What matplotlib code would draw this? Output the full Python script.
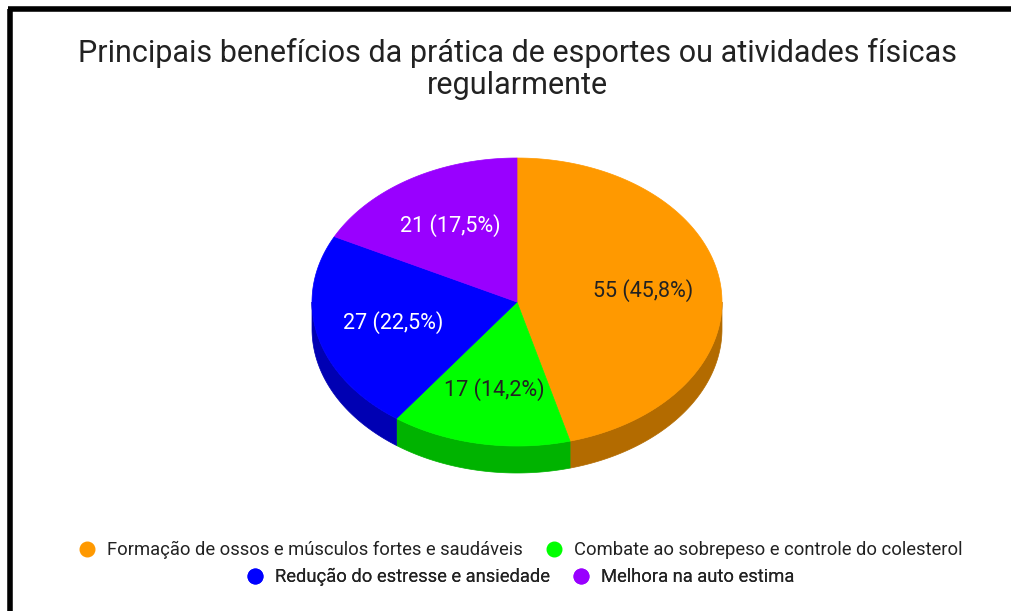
import numpy as np
import matplotlib.pyplot as plt
from matplotlib.patches import Polygon
from matplotlib.lines import Line2D

plt.rcParams['font.family'] = ['Roboto', 'DejaVu Sans']

# ---------------- data ----------------
categories = ['Formação de ossos e músculos fortes e saudáveis',
              'Combate ao sobrepeso e controle do colesterol',
              'Redução do estresse e ansiedade',
              'Melhora na auto estima']
counts = [55, 17, 27, 21]
top_colors = ['#FF9900', '#00FF00', '#0000FF', '#9900FF']
side_colors = ['#B36B00', '#00B300', '#0000B3', '#6B00B3']
label_colors = ['#222222', '#222222', '#FFFFFF', '#FFFFFF']

title = 'Principais benefícios da prática de esportes ou atividades físicas\nregularmente'

# ---------------- geometry (pixels) ----------------
cx, cy = 517, 302      # centre of top face
rx, ry = 205, 144      # ellipse radii
depth = 27             # thickness of the 3D side
label_frac = 0.62


def ell(theta_deg, r=1.0, dy=0.0):
    t = np.radians(theta_deg)
    return cx + r * rx * np.sin(t), cy - r * ry * np.cos(t) + dy


fig = plt.figure(figsize=(10.11, 6.11), dpi=100)
ax = fig.add_axes([0, 0, 1, 1])
ax.set_xlim(0, 1011)
ax.set_ylim(611, 0)
ax.axis('off')

total = sum(counts)
fracs = np.array(counts) / total
edges = np.concatenate([[0], np.cumsum(fracs) * 360])

# side faces (front half only: 90..270 deg clockwise from top)
for i in range(len(counts)):
    a0, a1 = max(edges[i], 90), min(edges[i + 1], 270)
    if a1 <= a0:
        continue
    th = np.linspace(a0, a1, 80)
    xs, ys = ell(th)
    xb, yb = ell(th[::-1], dy=depth)
    pts = np.column_stack([np.concatenate([xs, xb]), np.concatenate([ys, yb])])
    ax.add_patch(Polygon(pts, closed=True, facecolor=side_colors[i],
                         edgecolor=side_colors[i], lw=0.5))

# top face wedges
for i in range(len(counts)):
    th = np.linspace(edges[i], edges[i + 1], 120)
    xs, ys = ell(th)
    pts = np.column_stack([np.concatenate([[cx], xs]), np.concatenate([[cy], ys])])
    ax.add_patch(Polygon(pts, closed=True, facecolor=top_colors[i],
                         edgecolor=top_colors[i], lw=0.5))
    mid = (edges[i] + edges[i + 1]) / 2
    lx, ly = ell(mid, r=label_frac)
    pct = f'{fracs[i] * 100:.1f}'.replace('.', ',')
    ax.text(lx, ly, f'{counts[i]} ({pct}%)', ha='center', va='center',
            fontsize=15.5, color=label_colors[i])

# title
ax.text(517, 69, title, ha='center', va='center', fontsize=22,
        color='#222222', linespacing=1.12)

# legend, two centred rows
def make_handles(idx):
    return [Line2D([], [], marker='o', ls='none', markersize=10.5,
                   markerfacecolor=top_colors[j], markeredgecolor=top_colors[j])
            for j in idx]

for idx, yrow in [([0, 1], 550), ([2, 3], 577)]:
    leg = ax.legend(make_handles(idx), [categories[j] for j in idx], ncol=2,
                    loc='center', bbox_to_anchor=(520 / 1011, 1 - yrow / 611),
                    bbox_transform=fig.transFigure, frameon=False, fontsize=13.2,
                    handletextpad=0.6, columnspacing=1.2, handlelength=1.0,
                    labelcolor='#222222')
    ax.add_artist(leg)

# black frame on left and top
ax.plot([10, 10], [611, 9], color='black', lw=4, solid_capstyle='butt')
ax.plot([8, 1011], [9, 9], color='black', lw=4, solid_capstyle='butt')

fig.savefig('out.png', dpi=100, facecolor='white')
plt.close(fig)
